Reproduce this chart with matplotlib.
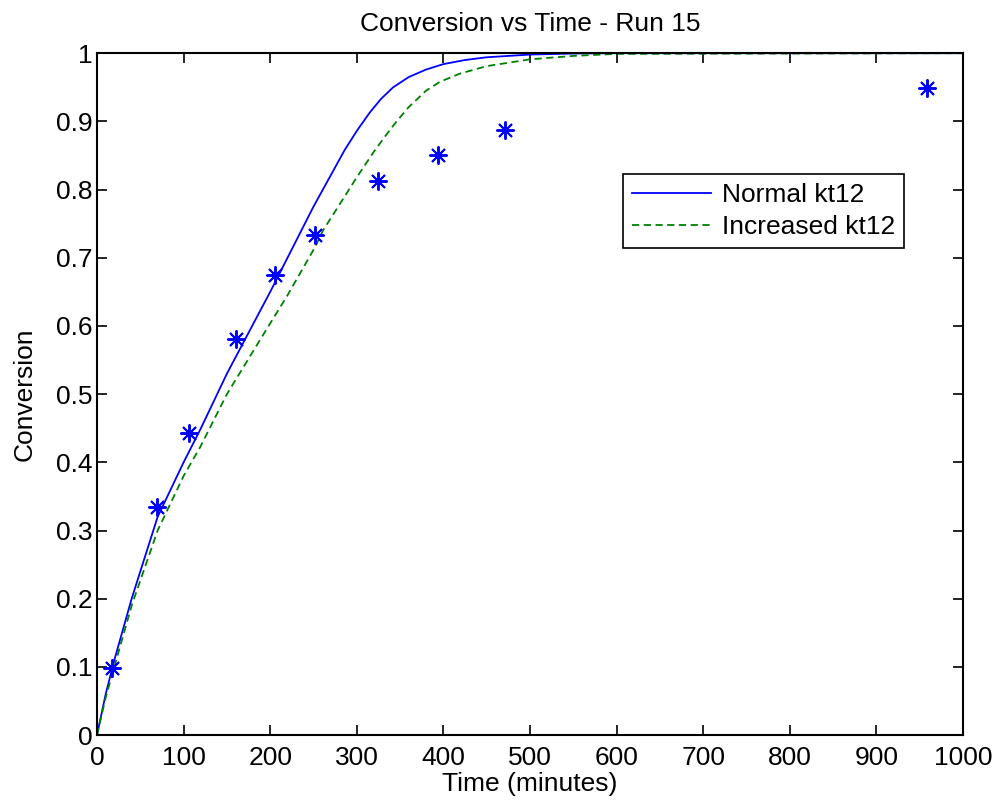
import matplotlib.pyplot as plt

# measured data points
t_data = [17, 69, 106, 161, 206, 252, 325, 394, 471, 958]
x_data = [0.098, 0.334, 0.443, 0.581, 0.674, 0.733, 0.812, 0.850, 0.887, 0.949]

# model curve, normal kt12
t_normal = [0, 10, 20, 40, 70, 100, 120, 150, 200, 250, 286, 300, 315, 328, 342, 360, 380, 400, 425, 450, 500, 550, 600, 1000]
x_normal = [0, 0.06, 0.11, 0.20, 0.32, 0.40, 0.45, 0.53, 0.65, 0.775, 0.858, 0.886, 0.913, 0.933, 0.950, 0.965, 0.976, 0.984, 0.990, 0.994, 0.998, 0.9995, 1.0, 1.0]

# model curve, increased kt12
t_incr = [0, 10, 20, 40, 70, 100, 119, 150, 188, 220, 252, 261, 300, 320, 335, 346, 360, 380, 396, 419, 450, 500, 550, 600, 1000]
x_incr = [0, 0.055, 0.10, 0.19, 0.30, 0.38, 0.422, 0.50, 0.579, 0.645, 0.716, 0.74, 0.818, 0.856, 0.882, 0.900, 0.921, 0.945, 0.958, 0.970, 0.981, 0.991, 0.996, 0.999, 1.0]

plt.rcParams['font.family'] = ['Liberation Sans', 'DejaVu Sans']

fig = plt.figure(figsize=(9.93, 8.06), dpi=100)
ax = fig.add_axes([0.0977, 0.088, 0.872, 0.846])

ax.plot(t_normal, x_normal, color=(0, 0, 1), linewidth=1.3, linestyle='-', label='Normal kt12')
ax.plot(t_incr, x_incr, color=(0, 0.5, 0), linewidth=1.3, linestyle='--', dashes=(4, 2.5), label='Increased kt12')
ax.plot(t_data, x_data, linestyle='none', marker=(8, 2, 0), markersize=13,
        markeredgewidth=1.4, color=(0, 0, 1))

ax.set_xlim(0, 1000)
ax.set_ylim(0, 1)
ax.set_xticks(range(0, 1001, 100))
ax.set_yticks([i / 10 for i in range(11)])
ax.set_yticklabels(['0'] + ['0.%d' % i for i in range(1, 10)] + ['1'])
ax.tick_params(direction='in', top=True, right=True, length=7, width=1.2, labelsize=19)
ax.tick_params(axis='x', pad=8)
ax.tick_params(axis='y', pad=3)
for s in ax.spines.values():
    s.set_linewidth(1.5)

ax.set_title('Conversion vs Time - Run 15', fontsize=19, pad=16)
ax.set_xlabel('Time (minutes)', fontsize=19, labelpad=1)
ax.set_ylabel('Conversion', fontsize=19, labelpad=14)

leg = ax.legend(loc='upper right', bbox_to_anchor=(0.932, 0.823), fontsize=19,
                fancybox=False, framealpha=1, edgecolor='black', borderpad=0.35,
                handlelength=3.0, labelspacing=0.3, borderaxespad=0, handletextpad=0.4)
leg.get_frame().set_linewidth(1.2)

plt.savefig('out.png', dpi=100)
